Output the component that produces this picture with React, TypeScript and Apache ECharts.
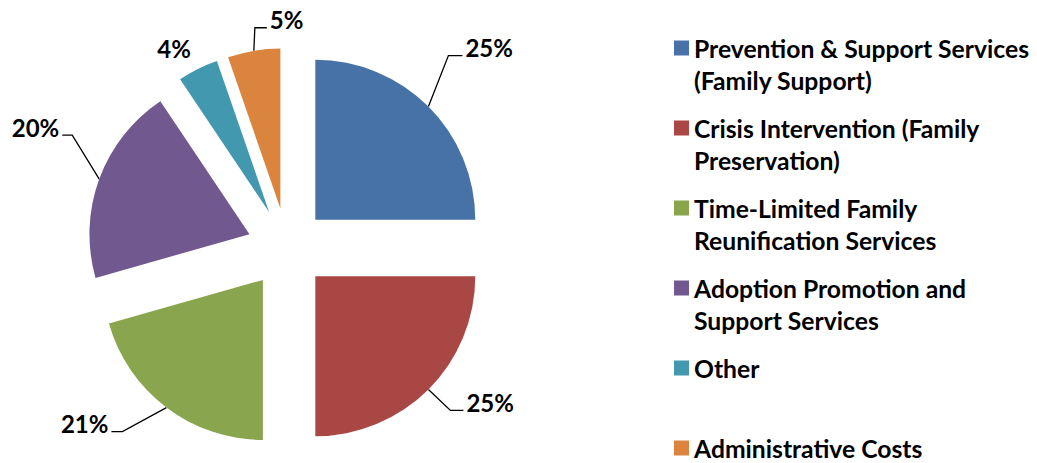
import React, { useEffect, useRef } from "react";
import * as echarts from "echarts";

// ---- data ----
const categories: string[] = [
  "Prevention & Support Services (Family Support)",
  "Crisis Intervention (Family Preservation)",
  "Time-Limited Family Reunification Services",
  "Adoption Promotion and Support Services",
  "Other",
  "Administrative Costs",
];
const shares: number[] = [25, 25, 20.6, 20, 4.1, 5.3];
const legendLines: string[][] = [
  ["Prevention & Support Services", "(Family Support)"],
  ["Crisis Intervention (Family", "Preservation)"],
  ["Time-Limited Family", "Reunification Services"],
  ["Adoption Promotion and", "Support Services"],
  ["Other"],
  ["Administrative Costs"],
];
const colors: string[] = ["#4672A8", "#A94744", "#89A54E", "#71588F", "#4198AF", "#DB843D"];

// ---- styling ----
const labelGuides = [
  { bend: [20, -51], run: 14, line: true },
  { bend: [22, 21], run: 13, line: true },
  { bend: [-44, 24], run: -11, line: true },
  { bend: [-27, -44], run: -10, line: true },
  { bend: [-3, -12], run: -1, line: false },
  { bend: [1, -23], run: 12, line: true },
];
const FONT = "Lato";
const LINE_H = 32;
const DIST = 5;
const GAP = 3;
const RAISE = 8;
const CENTER = [287, 248];
const RADIUS = 160;
const EXPLODE = 40;

export default function App() {
  const ref = useRef<HTMLDivElement>(null);
  useEffect(() => {
    document.body.style.margin = "0";
    if (!ref.current) return;
    const chart = echarts.init(ref.current, undefined, { renderer: "svg" });
    const total = shares.reduce((a, b) => a + b, 0);

    const labelLayout = (params: any) => {
      const pts = params.labelLinePoints;
      if (!pts) return {};
      const g = labelGuides[params.seriesIndex];
      const r = params.labelRect;
      const left = params.align === "left";
      const anchorX = left ? r.x : r.x + r.width;
      const anchorY = r.y + r.height / 2;
      const ox = anchorX - (pts[2][0] + (left ? DIST : -DIST));
      const oy = anchorY - pts[2][1];
      const p0 = pts[0];
      const b = [p0[0] + g.bend[0], p0[1] + g.bend[1]];
      const e = [b[0] + g.run, b[1]];
      const right = g.run > 0;
      return {
        x: e[0] + ox + (right ? GAP : -GAP),
        y: e[1] + oy - RAISE,
        align: right ? "left" : "right",
        verticalAlign: "middle",
        labelLinePoints: g.line ? [p0, b, e] : [p0, p0, p0],
      };
    };

    let cum = 0;
    const series = categories.map((name, i) => {
      const start = cum;
      cum += shares[i];
      const mid = ((start + shares[i] / 2) / total) * Math.PI * 2;
      return {
        type: "pie",
        center: [CENTER[0] + EXPLODE * Math.sin(mid), CENTER[1] - EXPLODE * Math.cos(mid)],
        radius: RADIUS,
        startAngle: 90 - (start / total) * 360,
        clockwise: true,
        avoidLabelOverlap: false,
        percentPrecision: 0,
        silent: true,
        itemStyle: { borderWidth: 0 },
        emphasis: { disabled: true },
        label: {
          show: true,
          position: "outside",
          formatter: "{d}%",
          fontFamily: FONT,
          fontWeight: "bold",
          fontSize: 24,
          color: "#000",
          distanceToLabelLine: DIST,
        },
        labelLine: {
          show: true,
          length: 10,
          length2: 12,
          lineStyle: { color: "#000", width: 1.3, opacity: labelGuides[i].line ? 1 : 0 },
        },
        labelLayout,
        data: [
          { name, value: shares[i], itemStyle: { color: colors[i] } },
          {
            name: "rest",
            value: total - shares[i],
            itemStyle: { color: "rgba(0,0,0,0)" },
            label: { show: false },
            labelLine: { show: false },
          },
        ],
      };
    });

    const option: any = {
      animation: false,
      backgroundColor: "#ffffff",
      legend: {
        orient: "vertical",
        left: 674,
        top: 0,
        height: 1000,
        padding: 0,
        itemGap: -16,
        itemWidth: 15,
        itemHeight: 15,
        icon: "rect",
        selectedMode: false,
        textStyle: { fontFamily: FONT, fontWeight: "bold", fontSize: 24.7, color: "#000", lineHeight: LINE_H },
        formatter: (name: string) => {
          const lines = legendLines[categories.indexOf(name)];
          return ["", ...lines, ...(lines.length < 2 ? [""] : [])].join("\n");
        },
        data: categories.map((name, i) => ({ name, itemStyle: { color: colors[i] } })),
      },
      series,
    };
    chart.setOption(option);
    return () => chart.dispose();
  }, []);
  return <div ref={ref} style={{ width: 1037, height: 463 }} />;
}
